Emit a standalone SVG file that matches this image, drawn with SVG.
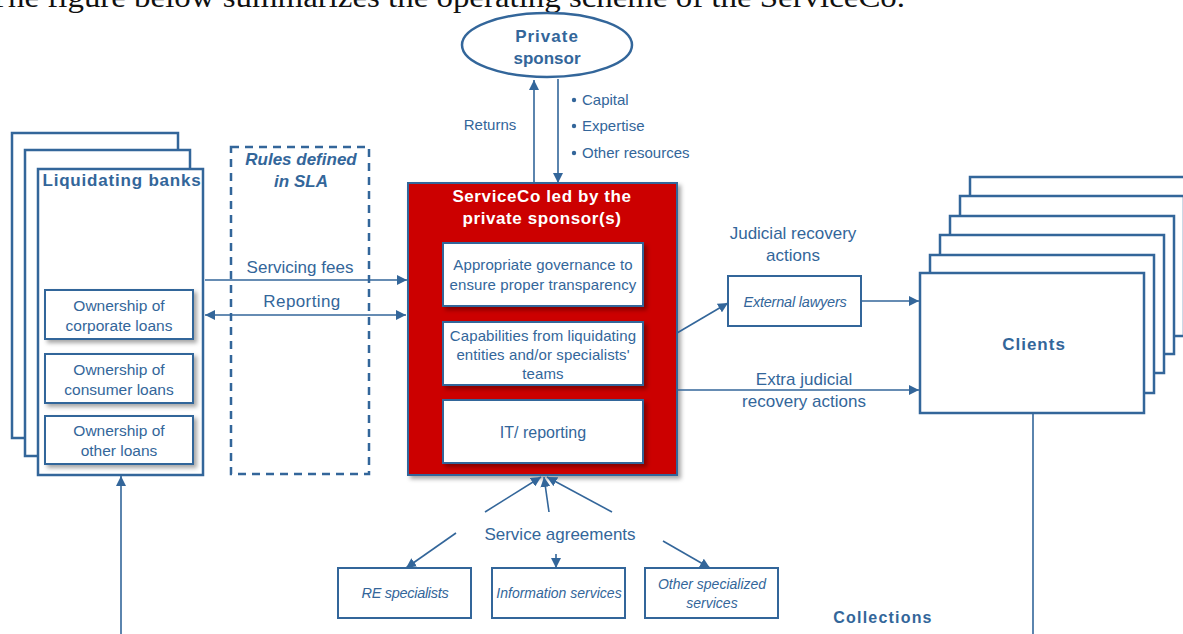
<svg xmlns="http://www.w3.org/2000/svg" width="1183" height="634" viewBox="0 0 1183 634">
<defs>
<style>
.t{font-family:"Liberation Sans",Arial,sans-serif;fill:#33669a;}
.b{font-weight:bold;}
.i{font-style:italic;}
.box{fill:#fff;stroke:#33669a;stroke-width:2.5;}
.ibox{fill:#fff;stroke:#33669a;stroke-width:2;}
.ln{stroke:#33669a;stroke-width:1.6;fill:none;}
</style>
<marker id="ah" viewBox="0 0 10 10" refX="10" refY="5" markerWidth="10" markerHeight="10" markerUnits="userSpaceOnUse" orient="auto-start-reverse">
<path d="M0,0 L10,5 L0,10 z" fill="#33669a"/>
</marker>
<filter id="sh" x="-10%" y="-10%" width="130%" height="130%">
<feDropShadow dx="3" dy="3" stdDeviation="2" flood-color="#000" flood-opacity="0.35"/>
</filter>
</defs>
<rect width="1183" height="634" fill="#fff"/>

<text x="-12" y="7" font-family="'Liberation Serif',serif" font-size="30" fill="#111" textLength="917" lengthAdjust="spacingAndGlyphs">The figure below summarizes the operating scheme of the ServiceCo.</text>

<g id="private-sponsor">
<ellipse cx="547" cy="45" rx="85" ry="32" class="box" stroke-width="2"/>
<text class="t b" x="547" y="42" font-size="17" text-anchor="middle" letter-spacing="1">Private</text>
<text class="t b" x="547" y="64" font-size="17" text-anchor="middle">sponsor</text>
</g>

<g id="liquidating-banks">
<rect class="box" x="12" y="133" width="166" height="305"/>
<rect class="box" x="25" y="150" width="165" height="306"/>
<rect class="box" x="38" y="169" width="165" height="306"/>
<text class="t b" x="122" y="186" font-size="17" text-anchor="middle" letter-spacing="0.8">Liquidating banks</text>
<g filter="url(#sh)">
<rect class="ibox" x="45" y="290" width="148" height="49"/>
<rect class="ibox" x="45" y="354" width="148" height="49"/>
<rect class="ibox" x="45" y="416" width="148" height="48"/>
</g>
<text class="t" font-size="15.5" text-anchor="middle"><tspan x="119" y="311">Ownership of</tspan><tspan x="119" y="331">corporate loans</tspan></text>
<text class="t" font-size="15.5" text-anchor="middle"><tspan x="119" y="375">Ownership of</tspan><tspan x="119" y="395">consumer loans</tspan></text>
<text class="t" font-size="15.5" text-anchor="middle"><tspan x="119" y="436">Ownership of</tspan><tspan x="119" y="456">other loans</tspan></text>
</g>

<g id="sla">
<rect x="231" y="147" width="138" height="327" fill="none" stroke="#33669a" stroke-width="2.5" stroke-dasharray="8,6"/>
<text class="t b i" x="301" y="165" font-size="17" text-anchor="middle">Rules defined</text>
<text class="t b i" x="301" y="187" font-size="17" text-anchor="middle">in SLA</text>
</g>

<g id="serviceco">
<rect x="408" y="183" width="269" height="292" fill="#cc0000" stroke="#33669a" stroke-width="2" filter="url(#sh)"/>
<text class="b" x="542" y="202" font-size="17" fill="#fff" font-family="'Liberation Sans',Arial,sans-serif" text-anchor="middle" letter-spacing="0.6">ServiceCo led by the</text>
<text class="b" x="542" y="224" font-size="17" fill="#fff" font-family="'Liberation Sans',Arial,sans-serif" text-anchor="middle" letter-spacing="0.6">private sponsor(s)</text>
<g filter="url(#sh)">
<rect class="ibox" x="443" y="243" width="200" height="63"/>
<rect class="ibox" x="443" y="322" width="200" height="63"/>
<rect class="ibox" x="443" y="400" width="200" height="63"/>
</g>
<text class="t" font-size="15" text-anchor="middle" letter-spacing="0.1"><tspan x="543" y="270">Appropriate governance to</tspan><tspan x="543" y="290">ensure  proper transparency</tspan></text>
<text class="t" font-size="15" text-anchor="middle" letter-spacing="0.1"><tspan x="543" y="341">Capabilities from liquidating</tspan><tspan x="543" y="360">entities and/or specialists'</tspan><tspan x="543" y="379">teams</tspan></text>
<text class="t" font-size="16" text-anchor="middle"><tspan x="543" y="438">IT/ reporting</tspan></text>
</g>

<g id="external-lawyers">
<rect class="ibox" x="728" y="276" width="133" height="50"/>
<text class="t i" x="795" y="307" font-size="14.5" text-anchor="middle" letter-spacing="-0.2">External lawyers</text>
</g>

<g id="clients">
<rect class="box" x="970" y="177" width="224" height="140"/>
<rect class="box" x="960" y="196" width="224" height="140"/>
<rect class="box" x="950" y="216" width="224" height="138"/>
<rect class="box" x="940" y="235" width="224" height="138"/>
<rect class="box" x="930" y="255" width="224" height="138"/>
<rect class="box" x="920" y="273" width="224" height="140"/>
<text class="t b" x="1034" y="350" font-size="17" text-anchor="middle" letter-spacing="1">Clients</text>
</g>

<g id="re-specialists">
<rect class="ibox" x="338" y="568" width="133" height="50"/>
<text class="t i" x="405" y="598" font-size="14.5" text-anchor="middle" letter-spacing="-0.3">RE specialists</text>
</g>
<g id="information-services">
<rect class="ibox" x="492" y="568" width="133" height="50"/>
<text class="t i" x="559" y="598" font-size="14" text-anchor="middle">Information services</text>
</g>
<g id="other-services">
<rect class="ibox" x="645" y="568" width="133" height="50"/>
<text class="t i" font-size="14" text-anchor="middle"><tspan x="712" y="589">Other specialized</tspan><tspan x="712" y="608">services</tspan></text>
</g>

<g id="connectors">
<line class="ln" x1="534" y1="183" x2="534" y2="80" marker-end="url(#ah)"/>
<line class="ln" x1="558" y1="79" x2="558" y2="183" marker-end="url(#ah)"/>
<line class="ln" x1="205" y1="280" x2="407" y2="280" marker-end="url(#ah)"/>
<line class="ln" x1="205" y1="315" x2="406" y2="315" marker-start="url(#ah)" marker-end="url(#ah)"/>
<line class="ln" x1="677" y1="333" x2="728" y2="303" marker-end="url(#ah)"/>
<line class="ln" x1="861" y1="301" x2="919" y2="301" marker-end="url(#ah)"/>
<line class="ln" x1="677" y1="390" x2="919" y2="390" marker-end="url(#ah)"/>
<line class="ln" x1="1033" y1="413" x2="1033" y2="634"/>
<line class="ln" x1="121" y1="634" x2="121" y2="476" marker-end="url(#ah)"/>
<line class="ln" x1="485" y1="512" x2="541" y2="477" marker-end="url(#ah)"/>
<line class="ln" x1="549" y1="512" x2="544" y2="477" marker-end="url(#ah)"/>
<line class="ln" x1="612" y1="512" x2="547" y2="477" marker-end="url(#ah)"/>
<line class="ln" x1="456" y1="533" x2="406" y2="568" marker-end="url(#ah)"/>
<line class="ln" x1="556" y1="554" x2="556" y2="568" marker-end="url(#ah)"/>
<line class="ln" x1="663" y1="541" x2="710" y2="568" marker-end="url(#ah)"/>
</g>

<g id="labels">
<text class="t" x="490" y="130" font-size="15" text-anchor="middle">Returns</text>
<circle cx="574" cy="100" r="2.2" fill="#33669a"/>
<circle cx="574" cy="126" r="2.2" fill="#33669a"/>
<circle cx="574" cy="153" r="2.2" fill="#33669a"/>
<text class="t" x="582" y="105" font-size="15">Capital</text>
<text class="t" x="582" y="131" font-size="15">Expertise</text>
<text class="t" x="582" y="158" font-size="15">Other resources</text>
<text class="t" x="300" y="273" font-size="17" text-anchor="middle">Servicing fees</text>
<text class="t" x="302" y="307" font-size="17" text-anchor="middle" letter-spacing="0.4">Reporting</text>
<text class="t" x="793" y="239" font-size="17" text-anchor="middle">Judicial recovery</text>
<text class="t" x="793" y="261" font-size="17" text-anchor="middle">actions</text>
<text class="t" x="804" y="385" font-size="17" text-anchor="middle">Extra judicial</text>
<text class="t" x="804" y="407" font-size="17" text-anchor="middle">recovery actions</text>
<text class="t" x="560" y="540" font-size="17" text-anchor="middle">Service agreements</text>
<text class="t b" x="883" y="623" font-size="16" text-anchor="middle" letter-spacing="1.2">Collections</text>
</g>
</svg>
